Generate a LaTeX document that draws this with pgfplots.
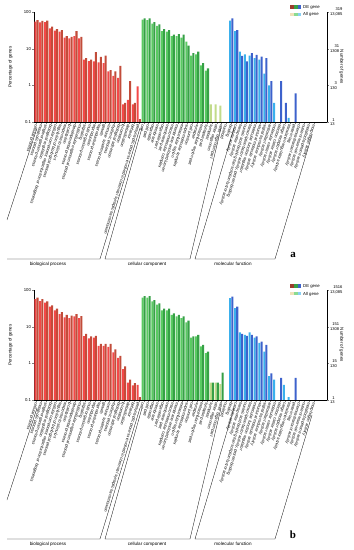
\documentclass[border=0pt]{standalone}
\usepackage{pgfplots}
\pgfplotsset{compat=1.18}
\usepackage{fontspec}
\setmainfont{Liberation Sans}
\newfontfamily\serifb{Liberation Serif}
\definecolor{rA}{HTML}{F44848}
\definecolor{rD}{HTML}{C24C3A}
\definecolor{gA}{HTML}{5ACB62}
\definecolor{gD}{HTML}{36A046}
\definecolor{bA}{HTML}{3AB0EC}
\definecolor{bD}{HTML}{3D62CC}
\definecolor{lgA}{HTML}{C2DB8A}
\pgfplotsset{
 golabels/.style={xticklabels={cellular process,metabolic process,single-organism process,biological regulation,cellular component organization or biogenesis,regulation of biological process,response to stimulus,localization,developmental process,multicellular organismal process,signaling,multi-organism process,reproduction,reproductive process,growth,immune system process,rhythmic process,biological adhesion,locomotion,detoxification,behavior,presynaptic process involved in chemical synaptic transmission,
 cell,cell part,organelle,membrane,organelle part,membrane part,macromolecular complex,membrane-enclosed lumen,extracellular region,supramolecular complex,cell junction,synapse,extracellular region part,synapse part,symplast,other organism,other organism part,nucleoid,
 binding,catalytic activity,transporter activity,nucleic acid binding transcription factor activity,{transcription factor activity, protein binding},molecular function regulator,structural molecule activity,signal transducer activity,antioxidant activity,molecular carrier activity,electron carrier activity,cargo receptor activity,translation regulator activity,protein tag,chemoattractant activity,nutrient reservoir activity,metallochaperone activity,morphogen activity}},
 Al/.style={bar shift=-0.22, fill=#1, draw=none},
 De/.style={bar shift=0.22, fill=#1, draw=none},
}
\begin{document}
\begin{tikzpicture}[x=1bp,y=1bp]
\path[use as bounding box] (0,0) rectangle (353,550);
% ---------------- panel a ----------------
\begin{axis}[at={(34bp,428bp)}, anchor=south west,
   scale only axis, width=293bp, height=110bp, ymode=log, log origin=infty,
   ymin=0.1, ymax=100, xmin=-0.5, xmax=59.65, yminorticks=false, tick align=outside,
   major tick length=1.8bp, axis line style={line width=0.35bp},
   ybar, bar width=0.42, axis x line*=bottom, axis y line*=left,
   xtick={0,...,57}, golabels,
   xticklabel style={font=\fontsize{4.1}{4.5}\selectfont, rotate=-107, anchor=west, inner sep=0.6bp},
   ytick={0.1,1,10,100}, yticklabels={0.1,1,10,100},
   yticklabel style={font=\fontsize{4.3}{5}\selectfont, inner sep=1bp},
   ylabel={Percentage of genes},
   ylabel style={font=\fontsize{4.5}{5}\selectfont, at={(axis description cs:-0.08,0.5)}, anchor=center}]
\addplot[Al=rA] coordinates {(0,55)(1,52)(2,53)(3,36)(4,31)(5,29)(6,20)(7,19)(8,22)(9,19)(10,5.0)(11,4.6)(12,4.5)(13,4.2)(14,4.0)(15,2.4)(16,1.8)(17,1.6)(18,0.3)(19,0.4)(20,0.3)(21,0.93)};
\addplot[De=rD] coordinates {(0,60)(1,57)(2,58)(3,40)(4,34)(5,32)(6,22)(7,21)(8,30)(9,21)(10,5.5)(11,5.0)(12,8.0)(13,6.0)(14,6.5)(15,2.6)(16,2.4)(17,3.4)(18,0.33)(19,1.3)(20,0.33)(21,0.12)};
\addplot[Al=gA] coordinates {(22,62)(23,60)(24,48)(25,42)(26,30)(27,29)(28,22)(29,22)(30,20)(31,15.6)(32,6.5)(33,7.0)(34,3.5)(35,2.5)};
\addplot[Al=lgA] coordinates {(36,0.3)(37,0.3)(38,0.28)};
\addplot[De=gD] coordinates {(22,67)(23,67)(24,53)(25,46)(26,34)(27,32)(28,24)(29,25)(30,24)(31,12)(32,7.5)(33,8.3)(34,4.0)(35,2.9)};
\addplot[Al=bA] coordinates {(40,58)(41,30)(42,8.3)(43,7.0)(44,6.5)(45,5.5)(46,5.0)(47,2.1)(48,1.0)(49,0.33)(52,0.13)};
\addplot[De=bD] coordinates {(40,67)(41,32)(42,6.4)(43,4.5)(44,7.5)(45,6.8)(46,6.1)(47,5.5)(48,1.3)(50,1.3)(51,0.33)(53,0.6)};
\end{axis}
\begin{axis}[at={(34bp,428bp)}, anchor=south west,
   scale only axis, width=293bp, height=110bp, ymode=log,
   ymin=0.1, ymax=100, xmin=-0.5, xmax=59.65, yminorticks=false, tick align=outside,
   major tick length=1.8bp, axis line style={line width=0.35bp},
   axis y line*=right, axis x line=none, xtick=\empty, ytick={0.1,1,10,100},
   yticklabels={{1\\13},{3\\130},{31\\1308},{319\\13,085}},
   yticklabel style={align=right, font=\fontsize{4.1}{4.6}\selectfont, inner sep=1bp},
   ylabel={Number of genes},
   ylabel style={font=\fontsize{4.5}{5}\selectfont, at={(axis description cs:1.05,0.5)}, anchor=center, rotate=180}]
\addplot[draw=none, forget plot] coordinates {(0,1)};
\end{axis}
% ---------------- panel b ----------------
\begin{axis}[at={(34bp,150bp)}, anchor=south west,
   scale only axis, width=293bp, height=110bp, ymode=log, log origin=infty,
   ymin=0.1, ymax=100, xmin=-0.5, xmax=59.65, yminorticks=false, tick align=outside,
   major tick length=1.8bp, axis line style={line width=0.35bp},
   ybar, bar width=0.42, axis x line*=bottom, axis y line*=left,
   xtick={0,...,57}, golabels,
   xticklabel style={font=\fontsize{4.1}{4.5}\selectfont, rotate=-107, anchor=west, inner sep=0.6bp},
   ytick={0.1,1,10,100}, yticklabels={0.1,1,10,100},
   yticklabel style={font=\fontsize{4.3}{5}\selectfont, inner sep=1bp},
   ylabel={Percentage of genes},
   ylabel style={font=\fontsize{4.5}{5}\selectfont, at={(axis description cs:-0.08,0.5)}, anchor=center}]
\addplot[Al=rA] coordinates {(0,56)(1,50)(2,45)(3,35)(4,28)(5,22)(6,18)(7,17)(8,19)(9,17)(10,5.5)(11,4.8)(12,5.0)(13,3.0)(14,3.0)(15,2.8)(16,2.0)(17,1.4)(18,0.7)(19,0.3)(20,0.25)(21,0.26)};
\addplot[De=rD] coordinates {(0,62)(1,56)(2,49)(3,38)(4,31)(5,25)(6,21)(7,20)(8,22)(9,19.4)(10,6.4)(11,5.4)(12,5.6)(13,3.4)(14,3.4)(15,3.4)(16,2.4)(17,1.6)(18,0.83)(19,0.36)(20,0.29)(21,0.12)};
\addplot[Al=gA] coordinates {(22,62)(23,62)(24,49)(25,40)(26,28)(27,28)(28,21)(29,19)(30,17)(31,13)(32,5.0)(33,5.4)(34,2.9)(35,1.9)};
\addplot[Al=lgA] coordinates {(36,0.3)(37,0.3)(38,0.27)};
\addplot[De=gD] coordinates {(22,68)(23,68)(24,53)(25,43)(26,31)(27,31)(28,23)(29,21)(30,19)(31,14.5)(32,5.4)(33,6.0)(34,3.2)(35,2.1)(36,0.3)(37,0.3)(38,0.56)};
\addplot[Al=bA] coordinates {(40,60)(41,32)(42,7.0)(43,6.0)(44,7.0)(45,5.0)(46,3.6)(47,2.1)(48,0.45)(49,0.36)(51,0.26)(52,0.12)};
\addplot[De=bD] coordinates {(40,66)(41,35)(42,6.4)(43,5.6)(44,6.0)(45,5.4)(46,3.9)(47,3.2)(48,0.53)(50,0.4)(53,0.4)};
\end{axis}
\begin{axis}[at={(34bp,150bp)}, anchor=south west,
   scale only axis, width=293bp, height=110bp, ymode=log,
   ymin=0.1, ymax=100, xmin=-0.5, xmax=59.65, yminorticks=false, tick align=outside,
   major tick length=1.8bp, axis line style={line width=0.35bp},
   axis y line*=right, axis x line=none, xtick=\empty, ytick={0.1,1,10,100},
   yticklabels={{1\\13},{15\\130},{151\\1308},{1516\\13,085}},
   yticklabel style={align=right, font=\fontsize{4.1}{4.6}\selectfont, inner sep=1bp},
   ylabel={Number of genes},
   ylabel style={font=\fontsize{4.5}{5}\selectfont, at={(axis description cs:1.05,0.5)}, anchor=center, rotate=180}]
\addplot[draw=none, forget plot] coordinates {(0,1)};
\end{axis}
% ---------------- brackets, group names, legends ----------------
\foreach \dy/\lab in {0/a, -280/b} {
\begin{scope}[yshift=\dy bp, line width=0.3bp]
 \draw (37,422) -- (7,330);
 \draw (140,422) -- (100,291) -- (7,291);
 \draw (142,422) -- (105,291) -- (190,291) -- (221,422);
 \draw (234,422) -- (195,291) -- (275,291) -- (312,415);
 \node[font=\fontsize{4.6}{5}\selectfont] at (48,286) {biological process};
 \node[font=\fontsize{4.6}{5}\selectfont] at (147,286) {cellular component};
 \node[font=\fontsize{4.6}{5}\selectfont] at (233,286) {molecular function};
 \node[font=\serifb\bfseries\fontsize{11}{11}\selectfont] at (293,295) {\lab};
\end{scope}}
\foreach \dy in {0, -279} {
\begin{scope}[yshift=\dy bp]
 \fill[rD!80!black] (290,541.3) rectangle (293.8,544.5);
 \fill[gD] (293.8,541.3) rectangle (297.6,544.5);
 \fill[bD] (297.6,541.3) rectangle (301.4,544.5);
 \fill[lgA!60!orange!40] (290,533.5) rectangle (293.8,536.7);
 \fill[gA!70] (293.8,533.5) rectangle (297.6,536.7);
 \fill[bA!60] (297.6,533.5) rectangle (301.4,536.7);
 \node[font=\fontsize{4.3}{5}\selectfont, anchor=west, inner sep=0.5bp] at (302.5,542.9) {DE gene};
 \node[font=\fontsize{4.3}{5}\selectfont, anchor=west, inner sep=0.5bp] at (302.5,535.1) {All gene};
\end{scope}}
\end{tikzpicture}
\end{document}
